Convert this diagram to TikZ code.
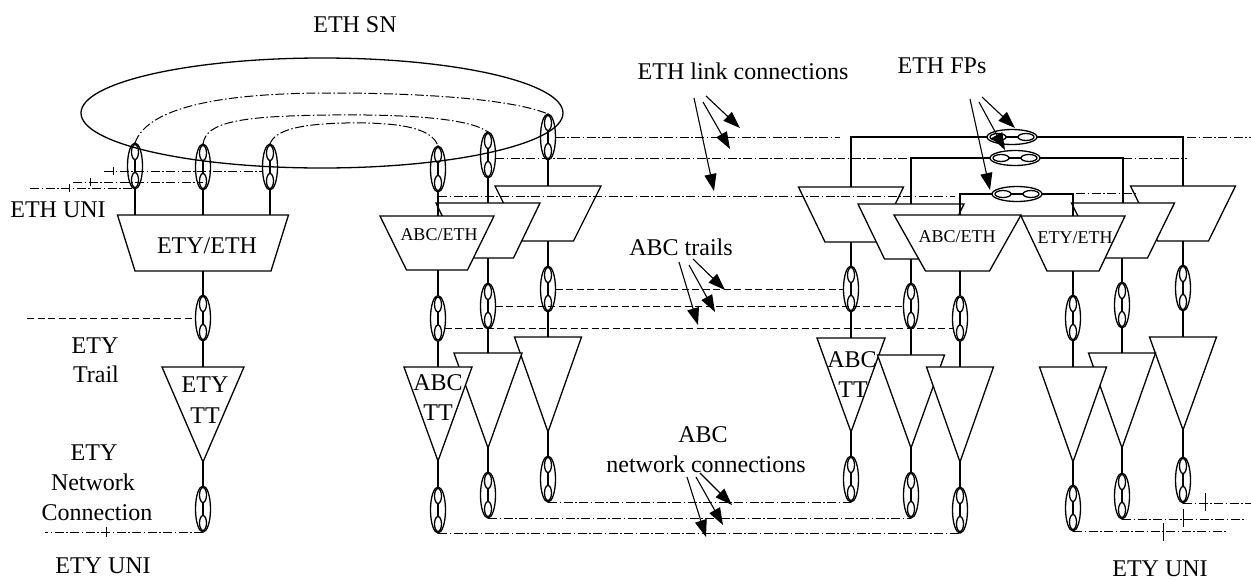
\documentclass[tikz,border=0pt]{standalone}
\usepackage{fontspec}
\setmainfont{Liberation Serif}
\usetikzlibrary{arrows.meta,calc}

\tikzset{
  ln/.style={line width=1.3pt},
  ddot/.style={line width=1pt, dash pattern=on 9pt off 2.5pt on 1.5pt off 2.5pt},
  dsh/.style={line width=1pt, dash pattern=on 7pt off 3.5pt},
  unitick/.style={line width=1pt},
  lbl/.style={inner sep=0pt, anchor=base, font=\fontsize{24}{29}\selectfont},
  slbl/.style={inner sep=0pt, anchor=base, font=\fontsize{18}{22}\selectfont},
  ptr/.style={line width=1.1pt, -{Triangle[length=17pt,width=12pt]}},
  shapefill/.style={ln, fill=white},
  % connection point pair (vertical)
  pics/cp/.style={code={
    \draw[ln] (0,0) ellipse [x radius=7.5, y radius=23];
    \draw[ln] (0,-14) ellipse [x radius=3.5, y radius=7.5];
    \draw[ln] (0,14) ellipse [x radius=3.5, y radius=7.5];
    \draw[ln] (0,-6.5) -- (0,6.5);
    \coordinate (-c) at (0,0);
    \coordinate (-n) at (0,-23);
    \coordinate (-s) at (0,23);
    \coordinate (-w) at (-7.5,0);
    \coordinate (-e) at (7.5,0);
  }},
  % flow point (horizontal)
  pics/fp/.style={code={
    \draw[ln] (0,0) ellipse [x radius=25, y radius=7.5];
    \draw[ln] (-14,0) ellipse [x radius=8, y radius=3.5];
    \draw[ln] (14,0) ellipse [x radius=8, y radius=3.5];
    \draw[ln] (-6,0) -- (6,0);
    \coordinate (-w) at (-25,0);
    \coordinate (-e) at (25,0);
  }},
  % adaptation function: top width, bottom width, height
  pics/adapt/.style n args={3}{code={
    \filldraw[shapefill] ({-(#1)/2},0) -- ({(#1)/2},0) -- ({(#2)/2},#3) -- ({-(#2)/2},#3) -- cycle;
    \coordinate (-n) at (0,0);
    \coordinate (-s) at (0,#3);
  }},
  % trail termination: width, height
  pics/term/.style n args={2}{code={
    \filldraw[shapefill] ({-(#1)/2},0) -- ({(#1)/2},0) -- (0,#2) -- cycle;
    \coordinate (-n) at (0,0);
    \coordinate (-s) at (0,#2);
  }},
}

\begin{document}
\begin{tikzpicture}[x=1pt,y=-1pt]
\useasboundingbox (0,0) rectangle (1251,579);
\fill[white] (0,0) rectangle (1251,579);

% ---------------- ETH subnetwork ----------------
\draw[ln] (322,113) ellipse [x radius=241, y radius=55];
\node[lbl] (ethsn) at (355,32) {ETH SN};

\pic (A1) at (135,166) {cp};
\pic (A2) at (203,167) {cp};
\pic (A3) at (270,167) {cp};
\pic (B1) at (438,169) {cp};
\pic (B2) at (488,155) {cp};
\pic (B3) at (548,137) {cp};

% subnetwork connections
\draw[ddot] (A1-n) .. controls (148,105) and (230,93) .. (330,93) .. controls (430,93) and (515,100) .. (B3-n);
\draw[ddot] (A2-n) .. controls (206,122) and (240,116) .. (330,115) .. controls (420,114) and (472,120) .. (B2-n);
\draw[ddot] (A3-n) .. controls (275,130) and (300,124) .. (345,123) .. controls (400,122) and (432,128) .. (B1-n);

% ---------------- left ETY/ETH column ----------------
\pic (E0) at (203,215) {adapt={171}{136}{56}};
\node[lbl] (E0t) at (207,253) {ETY/ETH};
\draw[ln] (A1-s) -- (A1-s |- E0-n);
\draw[ln] (A2-s) -- (A2-s |- E0-n);
\draw[ln] (A3-s) -- (A3-s |- E0-n);

\coordinate (uniA) at (104,171);
\coordinate (uniB) at (73,182);
\coordinate (uniC) at (30,188);
\draw[ddot] (uniA) -- (A3-w |- uniA);
\draw[ddot] (uniB) -- (A2-c |- uniB);
\draw[ddot] (uniC) -- (A1-c |- uniC);
\draw[unitick] (113,167) -- (113,175);
\draw[unitick] (90,178) -- (90,186);
\draw[unitick] (69,184) -- (69,192);
\node[lbl] (ethuni) at (58,217) {ETH UNI};

\pic (Y1) at (203,318) {cp};
\pic (YT) at (203,367) {term={82}{95}};
\pic (Y2) at (203,509) {cp};
\node[lbl] (YTa) at (205,392) {ETY};
\node[lbl] (YTb) at (205,423) {TT};
\draw[ln] (E0-s) -- (Y1-n);
\draw[ln] (Y1-s) -- (YT-n);
\draw[ln] (YT-s) -- (Y2-n);
\coordinate (etyT) at (27,318);
\draw[dsh] (etyT) -- (Y1-w);
\coordinate (etyU) at (45,532);
\draw[ddot] (Y2-s) -- (etyU);
\draw[unitick] (106,527) -- (106,537);

\node[lbl] (trA) at (95,353) {ETY};
\node[lbl] (trB) at (96,382) {Trail};
\node[lbl] (ncA) at (94,460) {ETY};
\node[lbl] (ncB) at (93,490) {Network};
\node[lbl] (ncC) at (97,520) {Connection};
\node[lbl] (uniL) at (103,573) {ETY UNI};

% ---------------- middle ABC columns ----------------
\pic (T3) at (548,186) {adapt={106}{51}{55}};
\pic (T2) at (488,203) {adapt={104}{51}{55}};
\pic (T1) at (437,216) {adapt={114}{61}{54}};
\node[slbl] (T1t) at (439,240) {ABC/ETH};
\draw[ln] (B1-s) -- (B1-s |- T1-n);
\draw[ln] (B2-s) -- (B2-s |- T2-n);
\draw[ln] (B3-s) -- (B3-s |- T3-n);

\pic (C1) at (438,318.5) {cp};
\pic (C2) at (488,306) {cp};
\pic (C3) at (548,289) {cp};
\draw[ln] (C1-n |- T1-s) -- (C1-n);
\draw[ln] (T2-s) -- (C2-n);
\draw[ln] (T3-s) -- (C3-n);

\pic (TT3) at (548,337) {term={67}{95}};
\pic (TT2) at (488,353) {term={68}{95}};
\pic (TT1) at (438,367) {term={68}{94}};
\node[lbl] (TT1a) at (438,390) {ABC};
\node[lbl] (TT1b) at (438,420) {TT};
\draw[ln] (C1-s) -- (TT1-n);
\draw[ln] (C2-s) -- (TT2-n);
\draw[ln] (C3-s) -- (TT3-n);

\pic (F1) at (438,510) {cp};
\pic (F2) at (488,495) {cp};
\pic (F3) at (548,479) {cp};
\draw[ln] (TT1-s) -- (F1-n);
\draw[ln] (TT2-s) -- (F2-n);
\draw[ln] (TT3-s) -- (F3-n);

% ---------------- right ABC columns and ETH flow points ----------------
\pic (RL1) at (851,187) {adapt={105}{52}{55}};
\pic (RL2) at (911,204) {adapt={106}{53}{55}};
\pic (RR3) at (1183,186) {adapt={105}{51}{55}};
\pic (RR2) at (1123,203) {adapt={103}{49}{55}};
\pic (RAB) at (957.5,215) {adapt={127}{64}{56}};
\pic (RET) at (1073,216) {adapt={104}{52}{55}};
\node[slbl] (RABt) at (957,242) {ABC/ETH};
\node[slbl] (RETt) at (1075,243) {ETY/ETH};

\pic (FP1) at (1012,137) {fp};
\pic (FP2) at (1015,158) {fp};
\pic (FP3) at (1017,194) {fp};

\pic (D1) at (851,289) {cp};
\pic (D2) at (911,306) {cp};
\pic (D3) at (960,318.5) {cp};
\pic (E1) at (1073,318) {cp};
\pic (E2) at (1122,305) {cp};
\pic (E3) at (1183,288) {cp};

\draw[ln] (FP1-w) -| (RL1-n);
\draw[ln] (FP1-e) -| (RR3-n);
\draw[ln] (FP2-w) -| (RL2-n);
\draw[ln] (FP2-e) -| (RR2-n);
\draw[ln] (FP3-w) -| (D3-n |- RAB-n);
\draw[ln] (FP3-e) -| (RET-n);

\draw[ln] (RL1-s) -- (D1-n);
\draw[ln] (RL2-s) -- (D2-n);
\draw[ln] (D3-n |- RAB-s) -- (D3-n);
\draw[ln] (RET-s) -- (E1-n);
\draw[ln] (E2-n |- RR2-s) -- (E2-n);
\draw[ln] (RR3-s) -- (E3-n);

\pic (UT1) at (851,338) {term={68}{94}};
\pic (UT2) at (911,355) {term={67}{93}};
\pic (UT3) at (960,367) {term={67}{95}};
\pic (VT3) at (1183,337) {term={67}{93}};
\pic (VT2) at (1122,353) {term={67}{95}};
\pic (VT1) at (1073,367) {term={67}{95}};
\node[lbl] (UT1a) at (852,367) {ABC};
\node[lbl] (UT1b) at (853,397) {TT};

\draw[ln] (D1-s) -- (UT1-n);
\draw[ln] (D2-s) -- (UT2-n);
\draw[ln] (D3-s) -- (UT3-n);
\draw[ln] (E1-s) -- (VT1-n);
\draw[ln] (E2-s) -- (VT2-n);
\draw[ln] (E3-s) -- (VT3-n);

\pic (G1) at (851,479) {cp};
\pic (G2) at (911,495) {cp};
\pic (G3) at (960,510) {cp};
\pic (H1) at (1073,508) {cp};
\pic (H2) at (1122,496) {cp};
\pic (H3) at (1183,480) {cp};

\draw[ln] (UT1-s) -- (G1-n);
\draw[ln] (UT2-s) -- (G2-n);
\draw[ln] (UT3-s) -- (G3-n);
\draw[ln] (VT1-s) -- (H1-n);
\draw[ln] (VT2-s) -- (H2-n);
\draw[ln] (VT3-s) -- (H3-n);

% ---------------- ETH link connections ----------------
\coordinate (lk1) at (840,137);
\coordinate (lk2) at (908,158);
\coordinate (lk3) at (955,196);
\draw[ddot] (B3-e) -- (lk1);
\draw[ddot] ($(B2-c)+(7.3,3)$) -- (lk2);
\draw[ddot] ($(B1-s)+(0,4)$) -- (lk3);

\coordinate (rk1a) at (1187,137);
\coordinate (rk1b) at (1251,137);
\coordinate (rk2) at (1187,158);
\coordinate (rk3a) at (1076,193);
\coordinate (rk3b) at (1138,193);
\draw[ddot] (rk1a) -- (rk1b);
\draw[ddot] (RR2-n |- FP2-e) -- (rk2);
\draw[ddot] (rk3a) -- (rk3b);

% ---------------- ABC trails ----------------
\draw[dsh] (C3-e) -- (D1-w);
\draw[dsh] (C2-e) -- (D2-w);
\draw[dsh] ($(C1-c)+(6.8,10)$) -- ($(D3-c)+(-6.8,10)$);

% ---------------- ABC network connections ----------------
\draw[ddot] (F3-s) -- (G1-s);
\draw[ddot] (F2-s) -- (G2-s);
\draw[ddot] (F1-s) -- (G3-s);

% ---------------- ETY UNI on the right ----------------
\coordinate (ru1) at (1251,503);
\coordinate (ru2) at (1246,519);
\coordinate (ru3) at (1227,531);
\draw[ddot] (H3-s) -- (ru1);
\draw[ddot] (H2-s) -- (ru2);
\draw[ddot] (H1-s) -- (ru3);
\draw[unitick] (1205,493) -- (1205,511);
\draw[unitick] (1183,509) -- (1183,527);
\draw[unitick] (1163,523) -- (1163,541);
\node[lbl] (uniR) at (1160,576) {ETY UNI};

% ---------------- annotations ----------------
\node[lbl] (ethlink) at (743,79) {ETH link connections};
\node[lbl] (ethfp) at (942,73) {ETH FPs};
\node[lbl] (abctr) at (681,255) {ABC trails};
\node[lbl] (abcncA) at (703,442) {ABC};
\node[lbl] (abcncB) at (706,472) {network connections};

\coordinate (p1s) at (706,96);  \coordinate (p1t) at (740,128);
\coordinate (p2s) at (703,102); \coordinate (p2t) at (730,149);
\coordinate (p3s) at (694,98);  \coordinate (p3t) at (714,191);
\draw[ptr] (p1s) -- (p1t);
\draw[ptr] (p2s) -- (p2t);
\draw[ptr] (p3s) -- (p3t);

\coordinate (q1s) at (982,97);  \coordinate (q1t) at (1015,128);
\coordinate (q2s) at (979,102); \coordinate (q2t) at (1005,150);
\coordinate (q3s) at (970,99);  \coordinate (q3t) at (990,190);
\draw[ptr] (q1s) -- (q1t);
\draw[ptr] (q2s) -- (q2t);
\draw[ptr] (q3s) -- (q3t);

\coordinate (r1s) at (693,259); \coordinate (r1t) at (725,290);
\coordinate (r2s) at (689,265); \coordinate (r2t) at (715,312);
\coordinate (r3s) at (679,262); \coordinate (r3t) at (698,325);
\draw[ptr] (r1s) -- (r1t);
\draw[ptr] (r2s) -- (r2t);
\draw[ptr] (r3s) -- (r3t);

\coordinate (s1s) at (700,473); \coordinate (s1t) at (732,505);
\coordinate (s2s) at (696,477); \coordinate (s2t) at (723,525);
\coordinate (s3s) at (687,477); \coordinate (s3t) at (706,537);
\draw[ptr] (s1s) -- (s1t);
\draw[ptr] (s2s) -- (s2t);
\draw[ptr] (s3s) -- (s3t);
\end{tikzpicture}
\end{document}
